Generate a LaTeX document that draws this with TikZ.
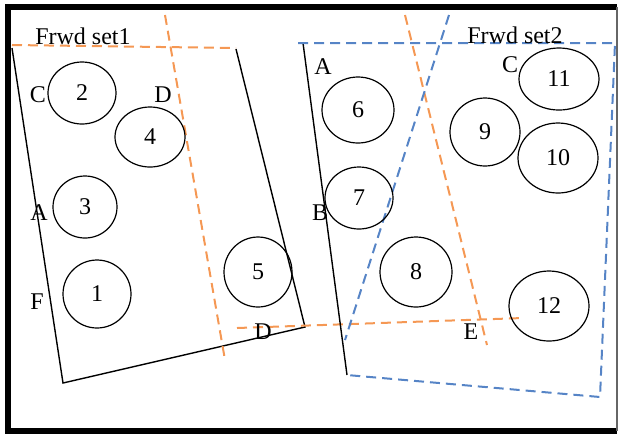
\documentclass[tikz,border=0pt]{standalone}
\usepackage{fontspec}
\setmainfont{Liberation Serif}
\usetikzlibrary{shapes.geometric}
\definecolor{setorange}{RGB}{245,152,84}
\definecolor{setblue}{RGB}{86,132,198}
\tikzset{cell/.style 2 args = {draw, ellipse, line width = 0.6pt, inner sep = 0,
                                minimum width = #1pt, minimum height = #2pt}}
\tikzset{lbl/.style = {inner sep = 0}}
\tikzset{orng/.style = {setorange, line width = 1pt, dash pattern = on 5pt off 3pt}}
\tikzset{blu/.style = {setblue, line width = 1pt, dash pattern = on 5pt off 3pt}}

\begin{document}
\begin{tikzpicture}[x = 0.5pt, y = -0.5pt, font = \fontsize{12}{14}\selectfont]
      \useasboundingbox (0, 0) rectangle (620, 435);

      % frame
      \draw [line width = 2.6pt] (617, 7) -- (8, 7) -- (8, 431) -- (617, 431);
      \draw [line width = 1pt, black!60] (617, 7) -- (617, 431);

      % set 1
      \draw [line width = 0.7pt] (12, 48) -- (63, 383) -- (305, 327) -- (236, 49);
      \draw [orng] (12, 45) -- (236, 48);
      \draw [orng] (165, 15) -- (225, 360);
      \draw [orng] (237, 328) -- (523, 318);
      \draw [orng] (405, 15) -- (487, 345);

      % set 2
      \draw [line width = 0.7pt] (303, 43) -- (347, 375);
      \draw [blu] (298, 43) -- (615, 43) -- (600, 397) -- (347, 375);
      \draw [blu] (449, 15) -- (345, 340);

      \node [lbl] (set1) at (83, 36) {Frwd set1};
      \node [lbl] (set2) at (515, 35) {Frwd set2};

      \node [cell={34}{31}] (c2) at (82, 93) {2};
      \node [cell={35}{30}] (c4) at (150, 137) {4};
      \node [cell={32}{31}] (c3) at (85, 207) {3};
      \node [cell={34}{34}] (c1) at (97, 294) {1};
      \node [cell={34}{35}] (c5) at (258, 272) {5};
      \node [cell={36}{33}] (c6) at (358, 110) {6};
      \node [cell={34}{31}] (c7) at (359, 198) {7};
      \node [cell={36}{35}] (c8) at (416, 272) {8};
      \node [cell={35}{34}] (c9) at (485, 132) {9};
      \node [cell={40}{35}] (c10) at (558, 158) {10};
      \node [cell={40}{31}] (c11) at (559, 79) {11};
      \node [cell={40}{35}] (c12) at (549, 306) {12};

      \node [lbl] (lc1) at (38, 95) {C};
      \node [lbl] (ld1) at (163, 95) {D};
      \node [lbl] (la1) at (39, 213) {A};
      \node [lbl] (lf1) at (37, 302) {F};
      \node [lbl] (ld2) at (263, 332) {D};
      \node [lbl] (la2) at (323, 67) {A};
      \node [lbl] (lb2) at (320, 213) {B};
      \node [lbl] (lc2) at (510, 65) {C};
      \node [lbl] (le2) at (471, 332) {E};
    \end{tikzpicture}
\end{document}
